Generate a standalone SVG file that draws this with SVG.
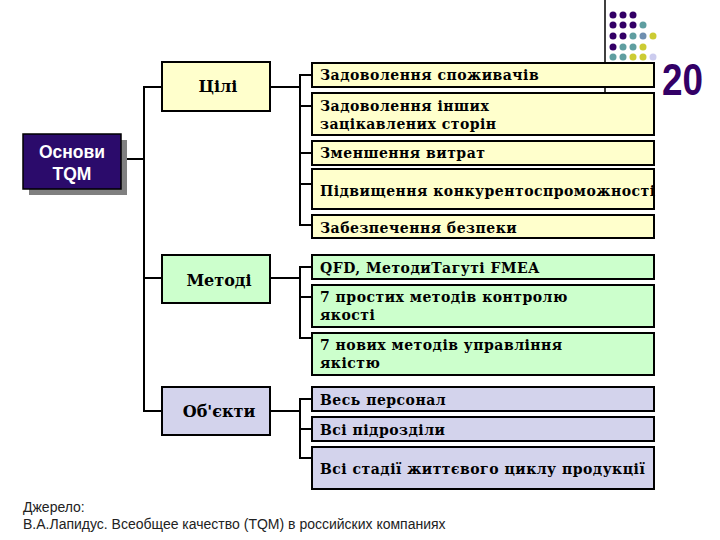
<svg xmlns="http://www.w3.org/2000/svg" width="720" height="540" viewBox="0 0 720 540">
<style>
.box{stroke:#000;stroke-width:2}
.y{fill:#FFFFCC}.g{fill:#CCFFCC}.l{fill:#D3D3EC}
.t{font-family:"DejaVu Serif","Liberation Serif",serif;font-weight:bold;font-size:14px;letter-spacing:0.5px;fill:#000}
.h{font-family:"DejaVu Serif","Liberation Serif",serif;font-weight:bold;font-size:16px;fill:#000;text-anchor:middle}
.c{fill:none;stroke:#000;stroke-width:2}
.src{font-family:"Liberation Sans",Arial,sans-serif;font-size:14px;fill:#222}
.w{font-family:"Liberation Sans",Arial,sans-serif;font-weight:bold;font-size:17.5px;fill:#fff;text-anchor:middle}
</style>
<rect width="720" height="540" fill="#fff"/>
<g id="decor">
<line x1="605" y1="0" x2="605" y2="93" stroke="#000" stroke-width="1.5"/>
<g fill="#330066">
<circle cx="613" cy="15" r="3.5"/><circle cx="623" cy="15" r="3.5"/><circle cx="633" cy="15" r="3.5"/>
<circle cx="613" cy="25" r="3.5"/><circle cx="623" cy="25" r="3.5"/><circle cx="633" cy="25" r="3.5"/>
<circle cx="613" cy="36" r="3.5"/><circle cx="623" cy="36" r="3.5"/>
<circle cx="613" cy="47" r="3.5"/>
</g>
<g fill="#5F9EA0">
<circle cx="643" cy="25" r="3.5"/>
<circle cx="633" cy="36" r="3.5"/><circle cx="643" cy="36" r="3.5" fill="#6F8FB0"/>
<circle cx="623" cy="47" r="3.5"/><circle cx="633" cy="47" r="3.5"/>
<circle cx="613" cy="57" r="3.5"/><circle cx="623" cy="57" r="3.5"/>
</g>
<g fill="#CCCC33">
<circle cx="653" cy="36" r="3.5"/>
<circle cx="643" cy="47" r="3.5"/>
<circle cx="633" cy="57" r="3.5"/><circle cx="643" cy="57" r="3.5"/>
</g>
<circle cx="653" cy="57" r="3.5" fill="#CCCCEE"/>
<text x="662" y="95" textLength="41" lengthAdjust="spacingAndGlyphs" font-family="Liberation Sans,Arial,sans-serif" font-weight="bold" font-size="44" fill="#330066">20</text>
</g>
<g id="connectors">
<polyline class="c" points="121,159 144,159"/>
<polyline class="c" points="162,87 144,87 144,411 162,411"/>
<line class="c" x1="144" y1="278" x2="162" y2="278"/>
<line class="c" x1="270" y1="87" x2="300" y2="87"/>
<polyline class="c" points="312,75 300,75 300,225 312,225"/>
<line class="c" x1="300" y1="106" x2="312" y2="106"/>
<line class="c" x1="300" y1="153" x2="312" y2="153"/>
<line class="c" x1="300" y1="184" x2="312" y2="184"/>
<line class="c" x1="270" y1="278" x2="300" y2="278"/>
<polyline class="c" points="312,267 300,267 300,338 312,338"/>
<line class="c" x1="300" y1="297" x2="312" y2="297"/>
<line class="c" x1="270" y1="411" x2="300" y2="411"/>
<polyline class="c" points="312,399 300,399 300,458 312,458"/>
<line class="c" x1="300" y1="429" x2="312" y2="429"/>
</g>
<g id="root">
<rect x="29" y="140" width="98" height="55" fill="#808080"/>
<rect x="23" y="134" width="98" height="55" fill="#2B0B6B" stroke="#000" stroke-width="1.5"/>
<text class="w" x="72" y="158">Основи</text>
<text class="w" x="72" y="180">TQM</text>
</g>
<g id="goals"><rect class="box y" x="162" y="62" width="108" height="49"/><text class="h" x="218" y="92">Цілі</text></g>
<g id="methods"><rect class="box g" x="162" y="255" width="108" height="48"/><text class="h" x="219" y="286">Методі</text></g>
<g id="objects"><rect class="box l" x="162" y="387" width="108" height="48"/><text class="h" x="219" y="417">Об'єкти</text></g>
<g id="g1"><rect class="box y" x="312" y="63" width="342" height="24"/><text class="t" x="320" y="80">Задоволення споживачів</text></g>
<g id="g2"><rect class="box y" x="312" y="93" width="342" height="42"/><text class="t" x="320" y="111">Задоволення інших</text><text class="t" x="320" y="129">зацікавлених сторін</text></g>
<g id="g3"><rect class="box y" x="312" y="141" width="342" height="24"/><text class="t" x="320" y="158">Зменшення витрат</text></g>
<g id="g4"><rect class="box y" x="312" y="169" width="342" height="40"/><text class="t" x="320" y="196">Підвищення конкурентоспроможності</text></g>
<g id="g5"><rect class="box y" x="312" y="215" width="342" height="23"/><text class="t" x="320" y="233">Забезпечення безпеки</text></g>
<g id="m1"><rect class="box g" x="312" y="255" width="342" height="24"/><text class="t" x="320" y="273">QFD, МетодиТагуті FMEA</text></g>
<g id="m2"><rect class="box g" x="312" y="285" width="342" height="42"/><text class="t" x="320" y="302">7 простих методів контролю</text><text class="t" x="320" y="320">якості</text></g>
<g id="m3"><rect class="box g" x="312" y="333" width="342" height="42"/><text class="t" x="320" y="350">7 нових методів управління</text><text class="t" x="320" y="368">якістю</text></g>
<g id="o1"><rect class="box l" x="312" y="387" width="342" height="24"/><text class="t" x="320" y="405">Весь персонал</text></g>
<g id="o2"><rect class="box l" x="312" y="417" width="342" height="24"/><text class="t" x="320" y="435">Всі підрозділи</text></g>
<g id="o3"><rect class="box l" x="312" y="447" width="342" height="42"/><text class="t" x="320" y="474">Всі стадії життєвого циклу продукції</text></g>
<g id="source">
<text class="src" x="23" y="512">Джерело:</text>
<text class="src" x="23" y="529">В.А.Лапидус. Всеобщее качество (TQM) в российских компаниях</text>
</g>
</svg>
